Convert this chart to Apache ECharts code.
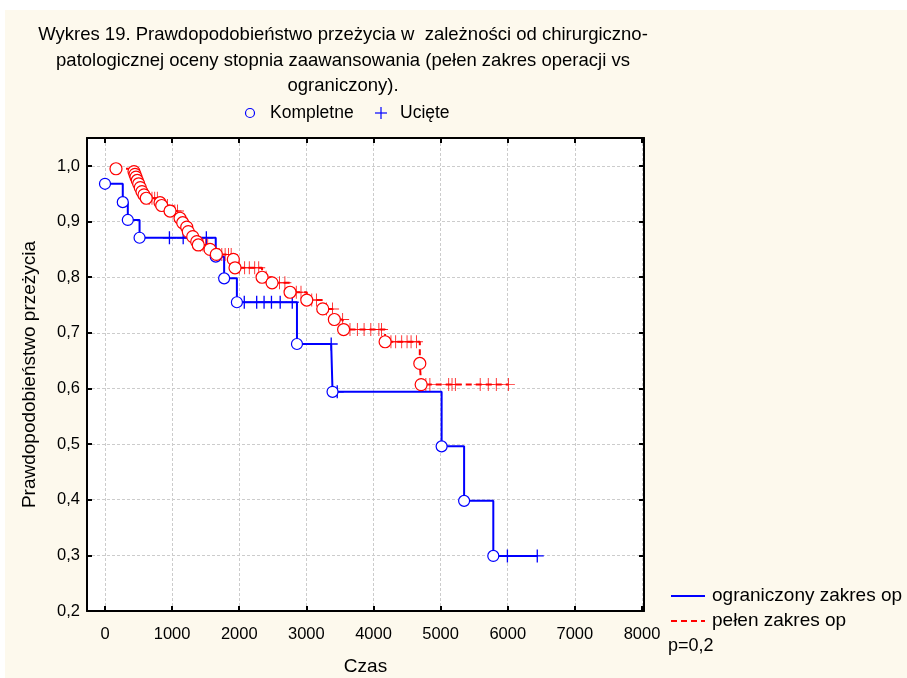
<!DOCTYPE html>
<html>
<head>
<meta charset="utf-8">
<script src="https://cdn.jsdelivr.net/npm/echarts@6/dist/echarts.min.js"></script>
<style>
html,body{margin:0;padding:0;background:#fff;}
#chart{width:907px;height:678px;}
</style>
</head>
<body>
<div id="chart"></div>
<script>
// ---- data ----
const xTicks = [0, 1000, 2000, 3000, 4000, 5000, 6000, 7000, 8000];
const yTicks = [0.2, 0.3, 0.4, 0.5, 0.6, 0.7, 0.8, 0.9, 1.0];

// ograniczony zakres op (blue)
const blueEventT = [0, 265, 340, 515, 1650, 1775, 1965, 2860, 3390, 5015, 5350, 5785];
const blueEventS = [0.968, 0.935, 0.903, 0.871, 0.837, 0.798, 0.755, 0.680, 0.594, 0.496, 0.398, 0.299];
const blueCensT = [960, 1165, 1510, 2075, 2260, 2370, 2480, 2610, 2790, 3370, 3460, 5995, 6440];
const blueCensS = [0.871, 0.871, 0.871, 0.755, 0.755, 0.755, 0.755, 0.755, 0.755, 0.680, 0.594, 0.299, 0.299];

// pełen zakres op (red)
const redEventT = [164, 432, 447, 462, 481, 502, 526, 551, 581, 615, 820, 845, 969, 1118, 1158, 1218, 1241, 1307, 1367, 1390, 1565, 1659, 1912, 1937, 2340, 2489, 2757, 3006, 3244, 3417, 3555, 4173, 4690, 4710];
const redEventS = [0.995, 0.990, 0.985, 0.980, 0.974, 0.968, 0.961, 0.954, 0.948, 0.942, 0.934, 0.929, 0.919, 0.906, 0.898, 0.890, 0.882, 0.873, 0.864, 0.858, 0.850, 0.841, 0.832, 0.817, 0.800, 0.790, 0.773, 0.759, 0.743, 0.724, 0.706, 0.684, 0.645, 0.607];
const redCensT = [660, 700, 740, 780, 880, 930, 1000, 1040, 1080, 1135, 1330, 1420, 1460, 1500, 1530, 1700, 1740, 1790, 1840, 1880, 2000, 2080, 2150, 2230, 2290, 2400, 2600, 2680, 2850, 2920, 3080, 3150, 3300, 3390, 3540, 3650, 3760, 3860, 3960, 4080, 4120, 4260, 4330, 4420, 4500, 4560, 4640, 4780, 4840, 5120, 5170, 5220, 5590, 5710, 5830, 6010];
const redCensS = [0.942, 0.942, 0.942, 0.942, 0.929, 0.929, 0.919, 0.919, 0.919, 0.906, 0.873, 0.858, 0.858, 0.858, 0.858, 0.841, 0.841, 0.841, 0.841, 0.841, 0.817, 0.817, 0.817, 0.817, 0.817, 0.800, 0.790, 0.790, 0.773, 0.773, 0.759, 0.759, 0.743, 0.743, 0.724, 0.706, 0.706, 0.706, 0.706, 0.706, 0.706, 0.684, 0.684, 0.684, 0.684, 0.684, 0.684, 0.607, 0.607, 0.607, 0.607, 0.607, 0.607, 0.607, 0.607, 0.607];

const titleLines = [
  'Wykres 19. Prawdopodobieństwo przeżycia w  zależności od chirurgiczno-',
  'patologicznej oceny stopnia zaawansowania (pełen zakres operacji vs',
  'ograniczony).'
];
const seriesNames = ['ograniczony zakres op', 'pełen zakres op'];
const markNames = ['Kompletne', 'Ucięte'];
const pValue = 'p=0,2';

// ---- build ----
function zip(t, s) { return t.map((v, i) => [v, s[i]]); }
function merged(et, es, ct, cs) {
  return zip(et, es).concat(zip(ct, cs)).sort((a, b) => a[0] - b[0]);
}
const BLUE = '#0000ff', RED = '#ff0000';
const FONT = '"Liberation Sans", Arial, sans-serif';
const PLUS = 'path://M-1,-0.07H1V0.07H-1Z M-0.07,-1H0.07V1H-0.07Z';
const PLUS_B = 'path://M-1,-0.1H1V0.1H-1Z M-0.1,-1H0.1V1H-0.1Z';

const chart = echarts.init(document.getElementById('chart'), null, {renderer: 'canvas'});

const axisCommonX = {
  type: 'value', min: -268, max: 8030,
  axisLine: {show: true, onZero: false, lineStyle: {color: '#000', width: 2}},
  axisTick: {show: true, inside: true, length: 5, lineStyle: {color: '#000', width: 2}, customValues: xTicks},
};
const axisCommonY = {
  type: 'value', min: 0.2, max: 1.0503,
  axisLine: {show: true, onZero: false, lineStyle: {color: '#000', width: 2}},
  axisTick: {show: true, inside: true, length: 5, lineStyle: {color: '#000', width: 2}, customValues: yTicks},
};

const option = {
  animation: false,
  backgroundColor: '#fdf9ed',
  grid: {left: 87, right: 263, top: 138, bottom: 67, show: true, backgroundColor: '#ffffff', borderWidth: 0,
    containLabel: false, outerBoundsMode: 'none'},
  xAxis: [
    Object.assign({}, axisCommonX, {
      position: 'bottom',
      name: 'Czas', nameLocation: 'middle', nameGap: 46,
      nameTextStyle: {fontFamily: FONT, fontSize: 19, color: '#000'},
      axisLabel: {show: true, customValues: xTicks, margin: 15, fontFamily: FONT, fontSize: 16.5, color: '#000',
        formatter: v => String(Math.round(v))},
      splitLine: {show: true, lineStyle: {color: '#cccccc', width: 1, type: [3, 2]}}
    }),
    Object.assign({}, axisCommonX, {
      position: 'top',
      axisLabel: {show: false},
      splitLine: {show: false}
    })
  ],
  yAxis: [
    Object.assign({}, axisCommonY, {
      position: 'left',
      name: 'Prawdopodobieństwo przeżycia', nameLocation: 'middle', nameGap: 48,
      nameTextStyle: {fontFamily: FONT, fontSize: 19, color: '#000'},
      axisLabel: {show: true, customValues: yTicks, margin: 7, fontFamily: FONT, fontSize: 16.5, color: '#000',
        formatter: v => v.toFixed(1).replace('.', ',')},
      splitLine: {show: true, lineStyle: {color: '#cccccc', width: 1, type: [3, 2]}}
    }),
    Object.assign({}, axisCommonY, {
      position: 'right',
      axisLabel: {show: false},
      splitLine: {show: false}
    })
  ],
  series: [
    {
      name: seriesNames[0], type: 'line', step: 'end', showSymbol: false, symbol: 'none',
      data: merged(blueEventT, blueEventS, blueCensT, blueCensS),
      lineStyle: {color: BLUE, width: 2}, z: 2
    },
    {
      name: seriesNames[1], type: 'line', step: 'end', showSymbol: false, symbol: 'none',
      data: merged(redEventT, redEventS, redCensT, redCensS),
      lineStyle: {color: RED, width: 2, type: [6, 4]}, z: 2
    },
    {
      name: markNames[1] + ' (ogr.)', type: 'scatter', data: zip(blueCensT, blueCensS),
      symbol: PLUS_B, symbolSize: 13, itemStyle: {color: BLUE, opacity: 1}, z: 3
    },
    {
      name: markNames[1] + ' (pełen)', type: 'scatter', data: zip(redCensT, redCensS),
      symbol: PLUS, symbolSize: 13, itemStyle: {color: RED, opacity: 0.85}, z: 3
    },
    {
      name: markNames[0] + ' (ogr.)', type: 'scatter', data: zip(blueEventT, blueEventS),
      symbol: 'circle', symbolSize: 11,
      itemStyle: {color: '#ffffff', borderColor: BLUE, borderWidth: 1.2, opacity: 1}, z: 4
    },
    {
      name: markNames[0] + ' (pełen)', type: 'scatter', data: zip(redEventT, redEventS),
      symbol: 'circle', symbolSize: 12,
      itemStyle: {color: '#ffffff', borderColor: RED, borderWidth: 1.2, opacity: 1}, z: 4
    }
  ],
  graphic: [
    {type: 'rect', shape: {x: 0, y: 0, width: 907, height: 10}, style: {fill: '#ffffff'}, silent: true},
    {type: 'rect', shape: {x: 0, y: 0, width: 5, height: 678}, style: {fill: '#ffffff'}, silent: true},
    {type: 'text', x: 343, y: 35, style: {text: titleLines[0], font: '18.5px ' + FONT, fill: '#000', textAlign: 'center', textVerticalAlign: 'middle'}},
    {type: 'text', x: 343, y: 61, style: {text: titleLines[1], font: '18.5px ' + FONT, fill: '#000', textAlign: 'center', textVerticalAlign: 'middle'}},
    {type: 'text', x: 343, y: 86, style: {text: titleLines[2], font: '18.5px ' + FONT, fill: '#000', textAlign: 'center', textVerticalAlign: 'middle'}},
    // top legend
    {type: 'circle', shape: {cx: 250, cy: 113, r: 4.5}, style: {fill: 'none', stroke: BLUE, lineWidth: 1.2}},
    {type: 'text', x: 270, y: 113, style: {text: markNames[0], font: '17.5px ' + FONT, fill: '#000', textAlign: 'left', textVerticalAlign: 'middle'}},
    {type: 'line', shape: {x1: 375, y1: 113, x2: 387, y2: 113}, style: {stroke: BLUE, lineWidth: 1.2}},
    {type: 'line', shape: {x1: 381, y1: 107, x2: 381, y2: 119}, style: {stroke: BLUE, lineWidth: 1.2}},
    {type: 'text', x: 400, y: 113, style: {text: markNames[1], font: '17.5px ' + FONT, fill: '#000', textAlign: 'left', textVerticalAlign: 'middle'}},
    // right legend
    {type: 'line', shape: {x1: 671, y1: 596, x2: 705, y2: 596}, style: {stroke: BLUE, lineWidth: 2}},
    {type: 'text', x: 712, y: 596, style: {text: seriesNames[0], font: '19px ' + FONT, fill: '#000', textAlign: 'left', textVerticalAlign: 'middle'}},
    {type: 'line', shape: {x1: 671, y1: 621, x2: 705, y2: 621}, style: {stroke: RED, lineWidth: 2, lineDash: [6, 4]}},
    {type: 'text', x: 712, y: 621, style: {text: seriesNames[1], font: '19px ' + FONT, fill: '#000', textAlign: 'left', textVerticalAlign: 'middle'}},
    {type: 'text', x: 668, y: 646, style: {text: pValue, font: '18px ' + FONT, fill: '#000', textAlign: 'left', textVerticalAlign: 'middle'}}
  ]
};
chart.setOption(option);
</script>
</body>
</html>
